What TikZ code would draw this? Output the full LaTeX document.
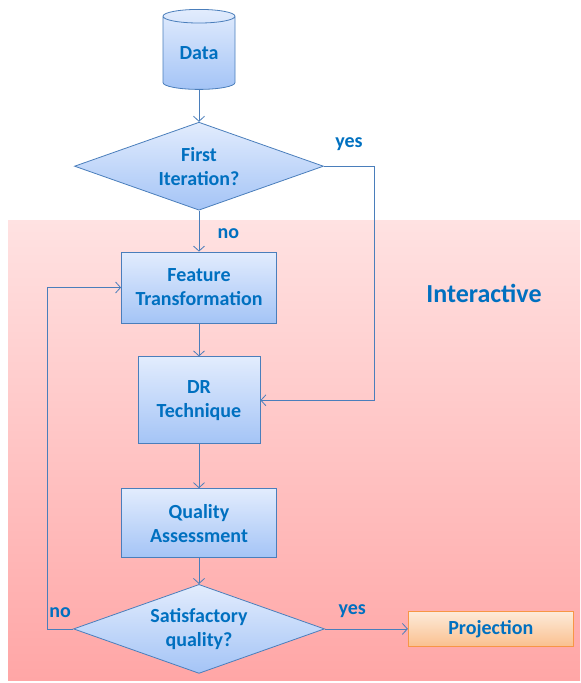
\documentclass[tikz,border=0pt]{standalone}
\usepackage{fontspec}
\setmainfont{Carlito}
\usetikzlibrary{shapes.geometric,positioning,arrows.meta}
\definecolor{textblue}{HTML}{0070C0}
\definecolor{lineblue}{HTML}{4A7EBB}
\definecolor{boxtop}{HTML}{E2ECFD}
\definecolor{boxbottom}{HTML}{A4C4F6}
\definecolor{pinktop}{HTML}{FFE2E2}
\definecolor{pinkbottom}{HTML}{FFA6A6}
\definecolor{orangetop}{HTML}{FDEBDA}
\definecolor{orangebottom}{HTML}{FAC08F}
\definecolor{orangeline}{HTML}{F79646}
\tikzset{
  boxfont/.style={font=\bfseries\fontsize{20}{24}\selectfont},
  process/.style={rectangle, draw=lineblue, line width=0.8pt, top color=boxtop, bottom color=boxbottom,
    text=textblue, boxfont, align=center, inner sep=0pt},
  decision/.style={diamond, draw=lineblue, line width=0.8pt, top color=boxtop, bottom color=boxbottom,
    text=textblue, boxfont, align=center, inner sep=0pt},
  flow/.style={draw=lineblue, line width=0.8pt, -{Straight Barb[length=5pt,width=11pt]}},
  tag/.style={text=textblue, boxfont}
}
\begin{document}
\begin{tikzpicture}[x=1pt, y=1pt]
\useasboundingbox (0,0) rectangle (581,-683);
% interactive region
\fill[top color=pinktop, bottom color=pinkbottom] (8,-220) rectangle (580,-680);
\node[tag, font=\bfseries\fontsize{26}{30}\selectfont] (interactive) at (484,-293) {Interactive};

\node [cylinder, shape border rotate=90, aspect=0.35, draw=lineblue, line width=0.8pt, top color=boxtop,
  bottom color=boxbottom, text=textblue, boxfont, inner sep=0pt,
  minimum width=72pt, minimum height=80pt] (data) at (199,-53) {Data};
\node [decision, minimum width=249pt, minimum height=88pt, aspect=2.83, below=32pt of data] (first) {First\\Iteration?};
\node [process, minimum width=155pt, minimum height=71pt, below=41pt of first] (feature) {Feature\\Transformation};
\node [process, minimum width=122pt, minimum height=87pt, below=33pt of feature] (dr) {DR\\Technique};
\node [process, minimum width=155pt, minimum height=69pt, below=44pt of dr] (quality) {Quality\\Assessment};
\node [decision, minimum width=251pt, minimum height=89pt, aspect=2.82, below=26pt of quality] (sat) {Satisfactory\\quality?};
\node [rectangle, draw=orangeline, line width=0.8pt, top color=orangetop, bottom color=orangebottom,
  text=textblue, boxfont, minimum width=165pt, minimum height=35pt, inner sep=0pt,
  right=83pt of sat] (proj) {Projection};

\draw[flow] (data) -- (first);
\draw[flow] (first) -- node[tag, right=15pt, pos=0.55] {no} (feature);
\draw[flow] (first.east) -- node[tag, above=12pt] {yes} ++(50,0) |- (dr.east);
\draw[flow] (feature) -- (dr);
\draw[flow] (dr) -- (quality);
\draw[flow] (quality) -- (sat);
\draw[flow] (sat.west) -- node[tag, above=8pt] {no} ++(-26,0) |- (feature.west);
\draw[flow] (sat.east) -- node[tag, above=8pt, pos=0.33] {yes} (proj);
\end{tikzpicture}
\end{document}
